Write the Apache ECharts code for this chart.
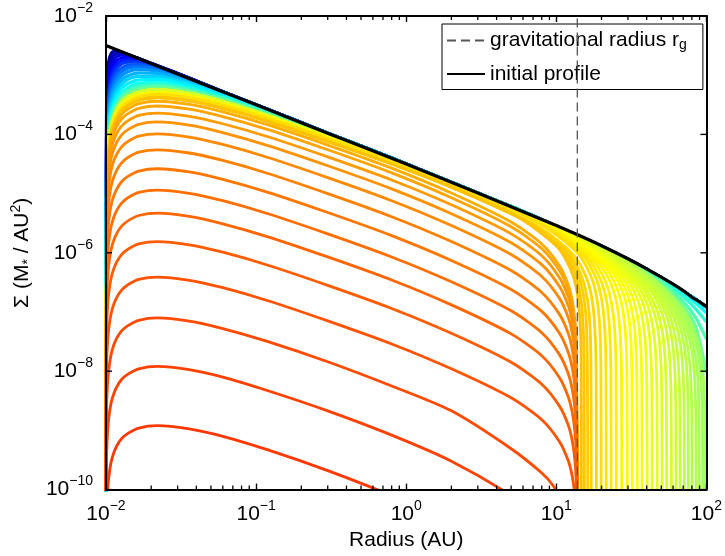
<!DOCTYPE html>
<html><head><meta charset="utf-8">
<script src="https://cdn.jsdelivr.net/npm/echarts@6/dist/echarts.min.js"></script>
<style>html,body{margin:0;padding:0;background:#fff}#c{width:725px;height:556px}</style>
</head><body><div id="c"></div>
<script>
// ---------------- DATA (log10 of surface density) ----------------
const FLOOR = -10.6; // Sigma -> 0 (inner boundary / cleared edge), drawn below the axis floor
const innerEdgeRadius = 0.01;
const gravitationalRadius = 13.8;
const xTickValues = [0.01, 0.1, 1, 10, 100];
const yTickValues = [1e-10, 1e-8, 1e-6, 1e-4, 1e-2];
const minorTicksX = [0.02,0.03,0.04,0.05,0.06,0.07,0.08,0.09,0.2,0.3,0.4,0.5,0.6,0.7,0.8,0.9,2,3,4,5,6,7,8,9,20,30,40,50,60,70,80,90];

const initialRadius = [0.01, 0.03, 0.1, 0.3, 1, 3, 10, 14, 20, 30, 40, 50, 60, 70, 80, 90, 100];
const initialLogSigma = [-2.50, -2.98, -3.50, -3.98, -4.50, -4.99, -5.54, -5.70, -5.88, -6.10, -6.27, -6.41, -6.53, -6.64, -6.75, -6.83, -6.91];

const bodyRadius = [0.0101, 0.0103, 0.0106, 0.011, 0.0117, 0.0127, 0.014, 0.0165, 0.022, 0.035, 0.06, 0.12, 0.3, 0.8, 2, 5];

// early profiles (blue -> green), outer edge beyond 100 AU
const earlyBody = [
 [-3.25,-2.86,-2.69,-2.61,-2.59,-2.61,-2.65,-2.72,-2.84,-3.04,-3.28,-3.58,-3.98,-4.40,-4.81,-5.22],
 [-3.42,-3.01,-2.80,-2.69,-2.63,-2.62,-2.65,-2.72,-2.84,-3.04,-3.28,-3.58,-3.98,-4.40,-4.81,-5.22],
 [-3.57,-3.14,-2.91,-2.78,-2.69,-2.66,-2.67,-2.72,-2.84,-3.04,-3.28,-3.58,-3.98,-4.40,-4.81,-5.22],
 [-3.71,-3.27,-3.03,-2.88,-2.76,-2.71,-2.70,-2.73,-2.85,-3.04,-3.28,-3.58,-3.98,-4.40,-4.81,-5.22],
 [-3.82,-3.37,-3.12,-2.96,-2.83,-2.76,-2.74,-2.75,-2.85,-3.04,-3.28,-3.58,-3.98,-4.40,-4.81,-5.22],
 [-3.91,-3.47,-3.21,-3.04,-2.90,-2.81,-2.78,-2.78,-2.86,-3.05,-3.28,-3.58,-3.98,-4.40,-4.81,-5.22],
 [-4.01,-3.56,-3.29,-3.12,-2.97,-2.88,-2.83,-2.82,-2.88,-3.05,-3.28,-3.58,-3.98,-4.40,-4.81,-5.22],
 [-4.10,-3.64,-3.38,-3.20,-3.04,-2.94,-2.88,-2.86,-2.90,-3.06,-3.28,-3.58,-3.98,-4.40,-4.81,-5.22],
 [-4.19,-3.73,-3.46,-3.28,-3.12,-3.01,-2.94,-2.90,-2.93,-3.08,-3.29,-3.58,-3.98,-4.40,-4.81,-5.22],
 [-4.28,-3.82,-3.55,-3.37,-3.20,-3.08,-3.01,-2.96,-2.97,-3.10,-3.30,-3.59,-3.98,-4.40,-4.81,-5.22],
 [-4.36,-3.91,-3.63,-3.44,-3.27,-3.15,-3.07,-3.02,-3.02,-3.13,-3.32,-3.59,-3.98,-4.40,-4.81,-5.22],
 [-4.45,-3.99,-3.71,-3.53,-3.35,-3.22,-3.14,-3.08,-3.07,-3.16,-3.34,-3.60,-3.99,-4.41,-4.81,-5.22],
 [-4.53,-4.07,-3.79,-3.60,-3.43,-3.30,-3.21,-3.14,-3.12,-3.20,-3.37,-3.62,-3.99,-4.41,-4.81,-5.22],
 [-4.58,-4.12,-3.84,-3.65,-3.47,-3.34,-3.25,-3.18,-3.15,-3.23,-3.38,-3.64,-4.00,-4.41,-4.81,-5.22],
 [-4.62,-4.16,-3.88,-3.69,-3.51,-3.37,-3.28,-3.21,-3.18,-3.25,-3.40,-3.65,-4.01,-4.42,-4.82,-5.22],
 [-4.65,-4.19,-3.91,-3.72,-3.54,-3.41,-3.31,-3.24,-3.21,-3.27,-3.42,-3.66,-4.02,-4.42,-4.82,-5.23]
];
const earlyTailRadius = [10, 20, 30, 50, 70, 85, 100];
const earlyTail = [
 [-5.55,-5.89,-6.11,-6.42,-6.65,-6.79,-6.92],[-5.55,-5.89,-6.11,-6.42,-6.65,-6.79,-6.92],
 [-5.55,-5.89,-6.11,-6.42,-6.65,-6.79,-6.92],[-5.55,-5.89,-6.11,-6.42,-6.65,-6.79,-6.92],
 [-5.55,-5.89,-6.11,-6.42,-6.65,-6.79,-6.92],[-5.55,-5.89,-6.11,-6.42,-6.65,-6.79,-6.92],
 [-5.55,-5.89,-6.11,-6.42,-6.65,-6.79,-6.92],[-5.55,-5.89,-6.11,-6.42,-6.65,-6.79,-6.92],
 [-5.55,-5.89,-6.11,-6.42,-6.65,-6.79,-6.92],[-5.55,-5.89,-6.11,-6.42,-6.65,-6.79,-6.92],
 [-5.55,-5.89,-6.11,-6.42,-6.65,-6.79,-6.92],[-5.55,-5.89,-6.11,-6.42,-6.65,-6.79,-6.92],
 [-5.55,-5.89,-6.11,-6.43,-6.68,-6.85,-7.02],
 [-5.55,-5.89,-6.12,-6.46,-6.74,-6.95,-7.17],
 [-5.56,-5.90,-6.13,-6.49,-6.82,-7.10,-7.46],
 [-5.56,-5.90,-6.14,-6.52,-6.90,-7.26,-8.03]
];

// profiles whose outer edge shrinks from ~100 AU to r_g (green -> yellow)
const shrinkBodyA = [-4.70,-4.24,-3.96,-3.77,-3.59,-3.45,-3.36,-3.28,-3.24,-3.30,-3.44,-3.68,-4.03,-4.43,-4.82];
const shrinkBodyB = [-4.76,-4.30,-4.02,-3.83,-3.64,-3.51,-3.41,-3.33,-3.29,-3.34,-3.48,-3.70,-4.05,-4.44,-4.83];
const shrinkBodyC = [-4.81,-4.35,-4.07,-3.87,-3.69,-3.55,-3.46,-3.37,-3.33,-3.38,-3.51,-3.73,-4.07,-4.45,-4.84];
const shrinkBodyD = [-4.86,-4.40,-4.12,-3.92,-3.74,-3.60,-3.51,-3.42,-3.38,-3.43,-3.56,-3.78,-4.12,-4.50,-4.89];
const shrinkBodyOf = ['A','A','A','A','A','A','A','A','A','A','B','B','B','B','B','B','B','B','B','B','C','C','C','C','D','D','D','D','D'];
const shrinkTail = [
 [[5,-5.23],[10,-5.56],[20,-5.91],[44.3,-6.44],[68.9,-6.93],[83.6,-7.34],[91.5,-7.72],[95.9,-8.19],[97.9,-8.91],[98.4,FLOOR]],
 [[5,-5.23],[10,-5.56],[20,-5.91],[42.5,-6.41],[66.15,-6.90],[80.3,-7.30],[87.9,-7.69],[92.1,-8.16],[94.0,-8.87],[94.5,FLOOR]],
 [[5,-5.23],[10,-5.56],[20,-5.92],[40.4,-6.38],[62.9,-6.86],[76.3,-7.27],[83.5,-7.65],[87.6,-8.12],[89.35,-8.83],[89.8,FLOOR]],
 [[5,-5.23],[10,-5.56],[20,-5.92],[38.4,-6.35],[59.8,-6.83],[72.6,-7.23],[79.4,-7.61],[83.3,-8.08],[85.0,-8.79],[85.4,FLOOR]],
 [[5,-5.23],[10,-5.56],[20,-5.92],[36.1,-6.32],[56.2,-6.78],[68.3,-7.18],[74.7,-7.56],[78.3,-8.03],[79.9,-8.74],[80.3,FLOOR]],
 [[5,-5.23],[10,-5.56],[20,-5.93],[34.2,-6.28],[53.1,-6.75],[64.5,-7.14],[70.6,-7.52],[74.0,-7.99],[75.5,-8.70],[75.9,FLOOR]],
 [[5,-5.23],[10,-5.56],[20,-5.93],[32.1,-6.25],[50.0,-6.71],[60.7,-7.10],[66.4,-7.48],[69.6,-7.95],[71.0,-8.66],[71.4,FLOOR]],
 [[5,-5.23],[10,-5.56],[20,-5.93],[30.1,-6.21],[46.8,-6.67],[56.8,-7.06],[62.1,-7.43],[65.1,-7.90],[66.5,-8.61],[66.8,FLOOR]],
 [[5,-5.23],[10,-5.56],[20,-5.94],[28.3,-6.18],[44.0,-6.63],[53.4,-7.02],[58.4,-7.39],[61.2,-7.86],[62.5,-8.57],[62.8,FLOOR]],
 [[5,-5.23],[10,-5.56],[20,-5.95],[26.3,-6.14],[41.0,-6.58],[49.7,-6.97],[54.4,-7.34],[57.0,-7.81],[58.2,-8.52],[58.5,FLOOR]],
 [[5,-5.24],[10,-5.57],[20,-5.96],[24.5,-6.10],[38.1,-6.55],[46.2,-6.93],[50.6,-7.30],[53.0,-7.77],[54.1,-8.47],[54.4,FLOOR]],
 [[5,-5.24],[10,-5.57],[20,-5.97],[22.8,-6.07],[35.5,-6.50],[43.1,-6.89],[47.2,-7.25],[49.4,-7.72],[50.4,-8.43],[50.7,FLOOR]],
 [[5,-5.24],[10,-5.58],[21.15,-6.03],[32.9,-6.46],[39.95,-6.84],[43.7,-7.21],[45.8,-7.67],[46.8,-8.38],[47.0,FLOOR]],
 [[5,-5.24],[10,-5.58],[19.6,-5.99],[30.45,-6.42],[37.0,-6.79],[40.5,-7.16],[42.4,-7.62],[43.3,-8.33],[43.5,FLOOR]],
 [[5,-5.24],[10,-5.58],[18.1,-5.95],[28.2,-6.37],[34.3,-6.75],[37.5,-7.11],[39.3,-7.58],[40.1,-8.29],[40.3,FLOOR]],
 [[5,-5.24],[10,-5.59],[16.8,-5.91],[26.1,-6.33],[31.7,-6.70],[34.7,-7.07],[36.4,-7.53],[37.1,-8.24],[37.3,FLOOR]],
 [[5,-5.24],[10,-5.59],[15.6,-5.87],[24.2,-6.29],[29.4,-6.66],[32.2,-7.03],[33.7,-7.49],[34.4,-8.20],[34.6,FLOOR]],
 [[5,-5.24],[10,-5.60],[14.4,-5.83],[22.5,-6.25],[27.3,-6.62],[29.85,-6.98],[31.3,-7.45],[31.9,-8.15],[32.1,FLOOR]],
 [[5,-5.25],[10,-5.61],[13.4,-5.80],[20.8,-6.21],[25.2,-6.58],[27.6,-6.94],[28.96,-7.40],[29.55,-8.11],[29.7,FLOOR]],
 [[5,-5.25],[10,-5.62],[12.3,-5.75],[19.1,-6.17],[23.2,-6.53],[25.4,-6.89],[26.6,-7.36],[27.2,-8.06],[27.3,FLOOR]],
 [[5,-5.26],[10,-5.64],[11.3,-5.72],[17.6,-6.13],[21.3,-6.49],[23.3,-6.85],[24.5,-7.32],[25.0,-8.02],[25.1,FLOOR]],
 [[5,-5.26],[10.4,-5.68],[16.2,-6.09],[19.7,-6.45],[21.6,-6.81],[22.6,-7.27],[23.1,-7.98],[23.2,FLOOR]],
 [[5,-5.26],[9.7,-5.64],[15.05,-6.05],[18.3,-6.42],[20.0,-6.77],[20.96,-7.23],[21.4,-7.94],[21.5,FLOOR]],
 [[5,-5.27],[8.96,-5.61],[13.9,-6.01],[16.9,-6.38],[18.5,-6.73],[19.4,-7.19],[19.8,-7.90],[19.9,FLOOR]],
 [[5,-5.32],[8.3,-5.62],[12.95,-6.03],[15.7,-6.39],[17.2,-6.75],[18.0,-7.21],[18.4,-7.91],[18.5,FLOOR]],
 [[5,-5.33],[7.7,-5.59],[11.97,-5.99],[14.5,-6.35],[15.9,-6.71],[16.7,-7.17],[17.0,-7.87],[17.1,FLOOR]],
 [[5,-5.33],[7.29,-5.56],[11.34,-5.96],[13.77,-6.32],[15.07,-6.68],[15.8,-7.14],[16.1,-7.84],[16.2,FLOOR]],
 [[5,-5.34],[6.93,-5.54],[10.78,-5.94],[13.1,-6.30],[14.3,-6.65],[15.0,-7.11],[15.3,-7.82],[15.4,FLOOR]],
 [[5,-5.34],[6.6,-5.52],[10.3,-5.92],[12.5,-6.29],[13.67,-6.63],[14.33,-7.09],[14.63,-7.80],[14.7,FLOOR]]
];

// profiles after the gap opens at r_g (orange -> red)
const clearingBody = [
 [-4.92,-4.46,-4.18,-3.98,-3.80,-3.66,-3.57,-3.48,-3.44,-3.49,-3.62,-3.84,-4.18,-4.57,-4.99,-5.48],
 [-5.00,-4.54,-4.26,-4.06,-3.88,-3.74,-3.65,-3.56,-3.52,-3.57,-3.70,-3.92,-4.26,-4.65,-5.07,-5.56],
 [-5.12,-4.66,-4.38,-4.18,-4.00,-3.86,-3.77,-3.68,-3.64,-3.69,-3.82,-4.04,-4.38,-4.77,-5.19,-5.68],
 [-5.27,-4.81,-4.53,-4.33,-4.15,-4.01,-3.92,-3.83,-3.79,-3.84,-3.97,-4.19,-4.53,-4.92,-5.34,-5.83],
 [-5.47,-5.01,-4.73,-4.53,-4.35,-4.21,-4.12,-4.03,-3.99,-4.04,-4.17,-4.39,-4.73,-5.12,-5.54,-6.03],
 [-5.74,-5.28,-5.00,-4.80,-4.62,-4.48,-4.39,-4.30,-4.26,-4.31,-4.44,-4.66,-5.00,-5.39,-5.81,-6.30],
 [-6.06,-5.60,-5.32,-5.12,-4.94,-4.80,-4.71,-4.62,-4.58,-4.63,-4.76,-4.98,-5.32,-5.71,-6.13,-6.62],
 [-6.42,-5.96,-5.68,-5.48,-5.30,-5.16,-5.07,-4.98,-4.94,-4.99,-5.12,-5.34,-5.68,-6.07,-6.49,-6.98],
 [-6.81,-6.35,-6.07,-5.87,-5.69,-5.55,-5.46,-5.37,-5.33,-5.38,-5.51,-5.73,-6.07,-6.46,-6.88,-7.37],
 [-7.29,-6.83,-6.55,-6.35,-6.17,-6.03,-5.94,-5.85,-5.81,-5.86,-5.99,-6.21,-6.55,-6.94,-7.36,-7.85],
 [-7.89,-7.43,-7.15,-6.95,-6.77,-6.63,-6.54,-6.45,-6.41,-6.46,-6.59,-6.81,-7.15,-7.54,-7.96,-8.45],
 [-8.58,-8.12,-7.84,-7.64,-7.46,-7.32,-7.23,-7.14,-7.10,-7.15,-7.28,-7.50,-7.84,-8.25,-8.67,-9.31],
 [-9.40,-8.94,-8.66,-8.46,-8.28,-8.14,-8.05,-7.96,-7.92,-7.97,-8.10,-8.33,-8.67,-9.08,-9.52,-10.10],
 [-10.40,-9.94,-9.66,-9.46,-9.28,-9.14,-9.05,-8.96,-8.92,-8.97,-9.10,-9.33,-9.68]
];
const clearingTail = [
 [[8,-5.85],[10.5,-6.22],[12,-6.54],[12.8,-6.82],[13.3,-7.14],[13.6,-7.55],[13.8,FLOOR]],
 [[8,-5.93],[10.5,-6.30],[12,-6.62],[12.8,-6.90],[13.3,-7.22],[13.6,-7.63],[13.8,FLOOR]],
 [[8,-6.05],[10.5,-6.42],[12,-6.74],[12.8,-7.02],[13.3,-7.34],[13.6,-7.75],[13.8,FLOOR]],
 [[8,-6.20],[10.5,-6.57],[12,-6.89],[12.8,-7.17],[13.3,-7.49],[13.6,-7.90],[13.8,FLOOR]],
 [[8,-6.40],[10.5,-6.77],[12,-7.09],[12.8,-7.37],[13.3,-7.69],[13.6,-8.10],[13.8,FLOOR]],
 [[8,-6.67],[10.5,-7.04],[12,-7.36],[12.8,-7.64],[13.3,-7.96],[13.6,-8.37],[13.8,FLOOR]],
 [[8,-6.99],[10.5,-7.36],[12,-7.68],[12.8,-7.96],[13.3,-8.28],[13.6,-8.69],[13.8,FLOOR]],
 [[8,-7.35],[10.5,-7.72],[12,-8.04],[12.8,-8.32],[13.3,-8.64],[13.6,-9.05],[13.8,FLOOR]],
 [[8,-7.74],[10.5,-8.11],[12,-8.43],[12.8,-8.71],[13.3,-9.03],[13.6,-9.44],[13.8,FLOOR]],
 [[8,-8.22],[10.5,-8.59],[12,-8.91],[12.8,-9.19],[13.3,-9.51],[13.6,-9.92],[13.8,FLOOR]],
 [[8,-8.82],[10.5,-9.19],[12,-9.51],[12.8,-9.79],[13.3,-10.11],[13.6,-10.52]],
 [[8,-9.72],[9.5,-9.93],[10.5,-10.15],[11.2,FLOOR]],
 [[6,-10.3]],
 [[0.8,-10.10],[1.2,-10.3]]
];

// ---------------- STYLE ----------------
const FONT = '"Liberation Sans", Arial, Helvetica, sans-serif';
const LW = 2.8;
const LW_EARLY = 3.3;
function jet(c) {
  const f = v => Math.round(255 * Math.max(0, Math.min(1, v)));
  return 'rgb(' + f(1.5 - Math.abs(4*c - 3)) + ',' + f(1.5 - Math.abs(4*c - 2)) + ',' + f(1.5 - Math.abs(4*c - 1)) + ')';
}
const earlyColor = earlyBody.map((_, k) => jet(0.03 + 0.03 * k));
const shrinkColor = shrinkTail.map((_, i) => jet(0.53 + 0.155 * i / (shrinkTail.length - 1)));
const clearingColor = clearingBody.map((_, j) => jet(0.705 + 0.115 * j / (clearingBody.length - 1)));

const toSigma = v => Math.pow(10, v);
const zip = (radii, logs) => logs.map((v, i) => [radii[i], toSigma(v)]);
const pairs = list => list.map(p => [p[0], toSigma(p[1])]);
const innerPoint = [[innerEdgeRadius, toSigma(FLOOR)]];

function curve(points, color, width, extra) {
  return Object.assign({
    type: 'line', data: points, symbol: 'none', showSymbol: false,
    smooth: 0.25, silent: true, animation: false,
    lineStyle: { color: color, width: width }, itemStyle: { color: color },
    emphasis: { disabled: true }, z: 2
  }, extra || {});
}

const series = [];
earlyBody.forEach((b, k) => {
  series.push(curve(innerPoint.concat(zip(bodyRadius, b), zip(earlyTailRadius, earlyTail[k])), earlyColor[k], LW_EARLY));
});
const shrinkBodies = { A: shrinkBodyA, B: shrinkBodyB, C: shrinkBodyC, D: shrinkBodyD };
shrinkTail.forEach((t, i) => {
  series.push(curve(innerPoint.concat(zip(bodyRadius, shrinkBodies[shrinkBodyOf[i]]), pairs(t)), shrinkColor[i], LW));
});
clearingBody.forEach((b, j) => {
  series.push(curve(innerPoint.concat(zip(bodyRadius, b), pairs(clearingTail[j])), clearingColor[j], LW));
});
series.push(curve(zip(initialRadius, initialLogSigma), '#000', 3.2, { name: 'initial profile', smooth: 0.2, z: 3 }));
series.push({
  type: 'line', name: 'gravitational radius', symbol: 'none', showSymbol: false, silent: true, animation: false,
  data: [[gravitationalRadius, yTickValues[0]], [gravitationalRadius, yTickValues[yTickValues.length - 1]]],
  lineStyle: { color: '#555', width: 1.3, type: [9, 5] }, itemStyle: { color: '#555' }, z: 4
});
// minor x ticks (bottom & top) and major y ticks (left & right), placed through the axes' own scales
series.push({
  type: 'custom', silent: true, animation: false, z: 11, clip: false,
  data: minorTicksX.map(v => [v, 1e-6]),
  renderItem: function (params, api) {
    const pb = api.coord([api.value(0), yTickValues[0]]);
    const pt = api.coord([api.value(0), yTickValues[yTickValues.length - 1]]);
    const st = { stroke: '#000', lineWidth: 1.3 };
    return { type: 'group', children: [
      { type: 'line', shape: { x1: pb[0], y1: pb[1], x2: pb[0], y2: pb[1] - 4 }, style: st },
      { type: 'line', shape: { x1: pt[0], y1: pt[1], x2: pt[0], y2: pt[1] + 4 }, style: st }
    ]};
  }
});
series.push({
  type: 'custom', silent: true, animation: false, z: 11, clip: false,
  data: yTickValues.map(v => [1, v]),
  renderItem: function (params, api) {
    const pl = api.coord([xTickValues[0], api.value(1)]);
    const pr = api.coord([xTickValues[xTickValues.length - 1], api.value(1)]);
    const st = { stroke: '#000', lineWidth: 1.4 };
    return { type: 'group', children: [
      { type: 'line', shape: { x1: pl[0], y1: pl[1], x2: pl[0] + 6, y2: pl[1] }, style: st },
      { type: 'line', shape: { x1: pr[0], y1: pr[1], x2: pr[0] - 6, y2: pr[1] }, style: st }
    ]};
  }
});

const RICH = {
  b: { fontSize: 21, fontFamily: FONT, color: '#000', lineHeight: 30, verticalAlign: 'middle' },
  s: { fontSize: 14, fontFamily: FONT, color: '#000', lineHeight: 14, verticalAlign: 'top' }
};
const powLabel = v => {
  const e = Math.round(Math.log10(v));
  if (e % 2 !== 0 && v < 0.05) return '';
  return '{b|10}{s|' + (e < 0 ? '\u2212' + (-e) : e) + '}';
};
const axisLineStyle = { color: '#000', width: 2 };
const tickStyle = { inside: true, length: 6, lineStyle: { color: '#000', width: 1.4 } };

const option = {
  animation: false,
  backgroundColor: '#fff',
  grid: { left: 106, right: 18, top: 16, bottom: 66, containLabel: false },
  xAxis: [
    { type: 'log', logBase: 10, min: xTickValues[0], max: xTickValues[4], splitNumber: 5, position: 'bottom', z: 10,
      axisLine: { lineStyle: axisLineStyle }, axisTick: tickStyle, splitLine: { show: false },
      axisLabel: { margin: 10, formatter: powLabel, rich: RICH },
      name: 'Radius (AU)', nameLocation: 'middle', nameGap: 32,
      nameTextStyle: { fontSize: 21, fontFamily: FONT, color: '#000' } },
    { type: 'log', logBase: 10, min: xTickValues[0], max: xTickValues[4], splitNumber: 5, position: 'top', z: 10,
      axisLine: { lineStyle: axisLineStyle }, axisTick: tickStyle, splitLine: { show: false }, axisLabel: { show: false } }
  ],
  yAxis: [
    { type: 'log', logBase: 10, min: yTickValues[0], max: yTickValues[4], splitNumber: 8, position: 'left', z: 10,
      axisLine: { lineStyle: axisLineStyle }, axisTick: { show: false }, splitLine: { show: false },
      axisLabel: { margin: 13, formatter: powLabel, rich: RICH },
      name: '{n|\u03A3 (M}{sub|*}{n| / AU}{sup|2}{n|)}', nameLocation: 'middle', nameGap: 66, nameRotate: 90,
      nameTextStyle: { fontSize: 21, fontFamily: FONT, color: '#000', rich: {
        n: { fontSize: 21, fontFamily: FONT, color: '#000', lineHeight: 26, verticalAlign: 'middle' },
        sub: { fontSize: 14, fontFamily: FONT, color: '#000', lineHeight: 14, verticalAlign: 'bottom' },
        sup: { fontSize: 14, fontFamily: FONT, color: '#000', lineHeight: 14, verticalAlign: 'top' } } } },
    { type: 'log', logBase: 10, min: yTickValues[0], max: yTickValues[4], splitNumber: 8, position: 'right', z: 10,
      axisLine: { lineStyle: axisLineStyle }, axisTick: { show: false }, splitLine: { show: false }, axisLabel: { show: false } }
  ],
  legend: {
    data: [
      { name: 'gravitational radius', itemStyle: { opacity: 0 } },
      { name: 'initial profile', itemStyle: { opacity: 0 } }
    ],
    orient: 'vertical', left: 442, top: 24,
    backgroundColor: '#fff', borderColor: '#000', borderWidth: 1, borderRadius: 0,
    padding: [6, 16, 5, 4], itemGap: 11, itemWidth: 38, itemHeight: 14,
    selectedMode: false,
    formatter: name => name === 'gravitational radius' ? '{n|gravitational radius r}{sub|g}' : '{n|' + name + '}',
    textStyle: { fontSize: 21, fontFamily: FONT, color: '#000', rich: {
      n: { fontSize: 21, fontFamily: FONT, color: '#000', lineHeight: 24, verticalAlign: 'middle' },
      sub: { fontSize: 14, fontFamily: FONT, color: '#000', lineHeight: 14, verticalAlign: 'bottom' } } }
  },
  series: series
};
const chart = echarts.init(document.getElementById('c'), null, { renderer: 'canvas' });
chart.setOption(option);
</script></body></html>
